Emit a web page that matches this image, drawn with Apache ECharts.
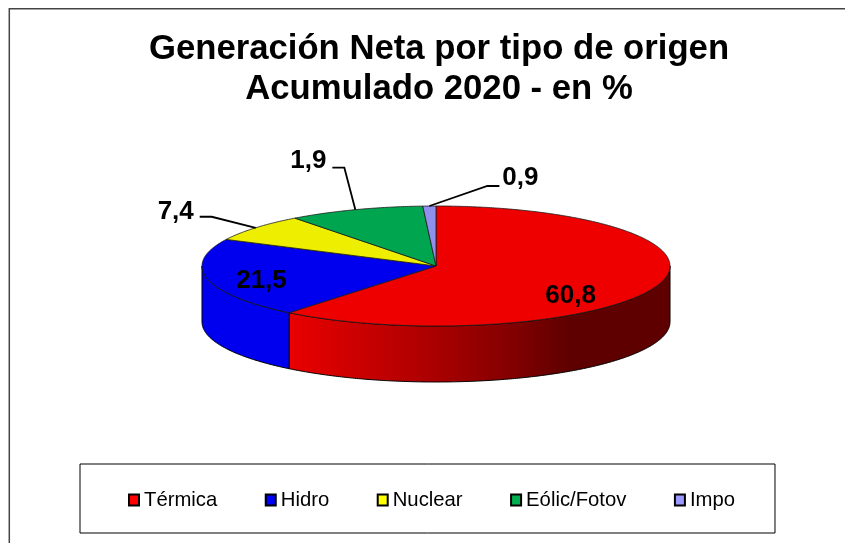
<!doctype html>
<html lang="es">
<head>
<meta charset="UTF-8">
<title>Generación Neta por tipo de origen</title>
<script src="https://cdn.jsdelivr.net/npm/echarts@6/dist/echarts.min.js"></script>
<style>
html, body { margin: 0; padding: 0; background: #fff; }
#main { width: 845px; height: 543px; }
</style>
</head>
<body>
<div id="main"></div>
<script>
// datos
var categories = ['Térmica', 'Hidro', 'Nuclear', 'Eólic/Fotov', 'Impo'];
var values = [60.8, 21.5, 7.4, 9.4, 0.9];   // tamano dibujado de cada porcion
var valueLabels = ['60,8', '21,5', '7,4', '1,9', '0,9']; // el original rotula 1,9 la porcion verde

var topColors = ['#ee0000', '#0000ee', '#eeee00', '#00a64f', '#8f8fee'];
var legendColors = ['#ff0000', '#0000ff', '#ffff00', '#00b050', '#9999ff'];

// geometria del disco
var cx = 436, cy = 266, rx = 234, ry = 60, depth = 56;

// etiqueta relativa al punto medio del borde: [dx, dy] y codo de la guia
var labelOffsets = [[-86, 10], [54, 2], [-80, -16], [-47, -49], [91, -28]];
var leaderElbows = [null, null, [[-44, -11], [-56, -11]], [[-11, -42], [-23, -42]], [[58, -20], [70, -20]]];

var total = values.reduce(function (a, b) { return a + b; }, 0);

function pointAt(angle, dy) {
    // angulo en grados, desde las 12 en sentido horario
    var r = angle * Math.PI / 180;
    return [cx + rx * Math.sin(r), cy - ry * Math.cos(r) + (dy || 0)];
}

function arcPoints(from, to, dy) {
    var pts = [];
    var n = Math.max(2, Math.ceil(Math.abs(to - from) * 2));
    for (var i = 0; i <= n; i++) {
        pts.push(pointAt(from + (to - from) * i / n, dy));
    }
    return pts;
}

var wallGradient = new echarts.graphic.LinearGradient(288, 0, 670, 0, [
    { offset: 0, color: '#ea0000' },
    { offset: 0.37, color: '#ac0000' },
    { offset: 0.58, color: '#840000' },
    { offset: 0.74, color: '#5e0000' },
    { offset: 1, color: '#5e0000' }
], true);

function sliceRenderer(index) {
    return function (params, api) {
        var before = 0;
        for (var i = 0; i < index; i++) { before += values[i]; }
        var start = before / total * 360;
        var end = (before + api.value(0)) / total * 360;
        var mid = (start + end) / 2;
        var children = [];

        // pared lateral, solo la parte visible (de 90 a 270 grados)
        var wallFrom = Math.max(start, 90), wallTo = Math.min(end, 270);
        if (wallTo > wallFrom) {
            children.push({
                type: 'polygon',
                shape: { points: arcPoints(wallFrom, wallTo, 0).concat(arcPoints(wallTo, wallFrom, depth)) },
                style: { fill: index === 0 ? wallGradient : topColors[index], stroke: '#000', lineWidth: 1 }
            });
        }

        // cara superior
        children.push({
            type: 'polygon',
            shape: { points: [[cx, cy]].concat(arcPoints(start, end, 0)) },
            style: { fill: topColors[index], stroke: '#1a1a1a', lineWidth: 0.8 }
        });

        // guia y etiqueta
        var anchor = pointAt(mid, 0);
        var offset = labelOffsets[index];
        if (leaderElbows[index]) {
            var line = [anchor];
            leaderElbows[index].forEach(function (e) {
                line.push([anchor[0] + e[0], anchor[1] + e[1]]);
            });
            children.push({
                type: 'polyline',
                z2: 20,
                shape: { points: line },
                style: { fill: null, stroke: '#000', lineWidth: 1.8 }
            });
        }
        children.push({
            type: 'text',
            z2: 30,
            x: anchor[0] + offset[0],
            y: anchor[1] + offset[1],
            style: {
                text: valueLabels[index],
                fill: '#000',
                font: 'bold 26px "Liberation Sans", Arial, sans-serif',
                align: 'center',
                verticalAlign: 'middle'
            }
        });
        return { type: 'group', children: children };
    };
}

var myChart = echarts.init(document.getElementById('main'), null, { renderer: 'canvas' });

var option = {
    animation: false,
    backgroundColor: '#fff',
    title: {
        text: 'Generación Neta por tipo de origen\nAcumulado 2020 - en %',
        left: 434,
        top: 24,
        textAlign: 'center',
        textStyle: {
            fontFamily: '"Liberation Sans", Arial, sans-serif',
            fontWeight: 'bold',
            fontSize: 34.7,
            lineHeight: 40,
            color: '#000'
        }
    },
    legend: {
        left: 80,
        top: 464,
        orient: 'horizontal',
        padding: [26, 40, 23, 48],
        itemGap: 47.5,
        itemWidth: 10,
        itemHeight: 11,
        selectedMode: false,
        borderColor: '#000',
        borderWidth: 1,
        textStyle: {
            fontFamily: '"Liberation Sans", Arial, sans-serif',
            fontSize: 20.3,
            color: '#000'
        },
        data: categories.map(function (name, i) {
            return {
                name: name,
                icon: 'rect',
                itemStyle: { color: legendColors[i], borderColor: '#000', borderWidth: 2 }
            };
        })
    },
    graphic: [{
        type: 'polyline',
        silent: true,
        shape: { points: [[9.3, 543], [9.3, 8.8], [845, 8.8]] },
        style: { fill: null, stroke: '#444', lineWidth: 1.5 }
    }],
    series: categories.map(function (name, i) {
        return {
            name: name,
            type: 'custom',
            coordinateSystem: 'none',
            silent: true,
            itemStyle: { color: legendColors[i] },
            renderItem: sliceRenderer(i),
            data: [[values[i]]]
        };
    })
};

myChart.setOption(option);
</script>
</body>
</html>
